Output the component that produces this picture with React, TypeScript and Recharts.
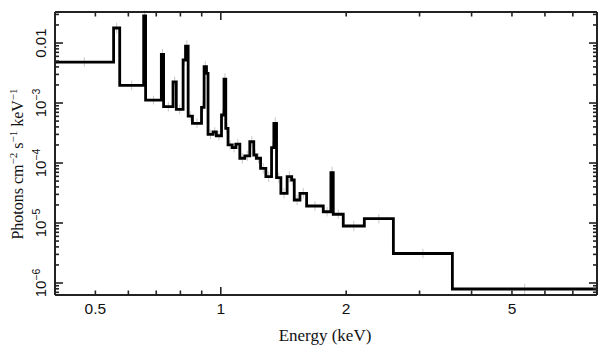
import React from "react";
import { ComposedChart, Line, Scatter, ErrorBar, XAxis, YAxis } from "recharts";

// bin edges (keV) of the folded spectrum, last entry closes the last bin
const binEdges = [
  0.4, 0.553, 0.572, 0.653, 0.66, 0.72, 0.729, 0.768, 0.782, 0.812, 0.823, 0.835,
  0.855, 0.899, 0.912, 0.924, 0.932, 0.958, 0.976, 1.004, 1.018, 1.028, 1.041, 1.065,
  1.087, 1.111, 1.142, 1.174, 1.2, 1.218, 1.246, 1.283, 1.324, 1.341, 1.361, 1.394,
  1.443, 1.479, 1.501, 1.549, 1.607, 1.762, 1.838, 1.862, 1.968, 2.211, 2.596, 3.597, 8.0,
];

// photons cm^-2 s^-1 keV^-1 for each bin
const binFlux = [
  4.82e-3, 1.78e-2, 1.97e-3, 2.82e-2, 1.12e-3, 6.48e-3, 8.68e-4, 2.26e-3, 7.85e-4, 5.21e-3,
  8.91e-3, 6.07e-4, 4.59e-4, 8.48e-4, 4.03e-3, 3.13e-3, 3.01e-4, 3.29e-4, 2.85e-4, 6.31e-4,
  2.51e-3, 3.79e-4, 2.0e-4, 1.81e-4, 2.07e-4, 1.2e-4, 1.32e-4, 2.26e-4, 1.36e-4, 1.2e-4,
  8.16e-5, 5.91e-5, 1.8e-4, 4.59e-4, 5.69e-5, 3.13e-5, 5.91e-5, 5.21e-5, 2.42e-5, 3.13e-5,
  1.92e-5, 1.54e-5, 6.89e-5, 1.4e-5, 8.91e-6, 1.18e-5, 3.1e-6, 7.94e-7,
];

// rough fractional errors
const binErr = [
  0.2, 0.22, 0.2, 0.25, 0.18, 0.22, 0.2, 0.22, 0.2, 0.24, 0.25, 0.2, 0.2, 0.22, 0.24, 0.24,
  0.2, 0.2, 0.2, 0.22, 0.25, 0.22, 0.2, 0.2, 0.22, 0.22, 0.22, 0.24, 0.22, 0.22, 0.22, 0.22,
  0.25, 0.26, 0.22, 0.22, 0.24, 0.24, 0.22, 0.22, 0.2, 0.2, 0.26, 0.2, 0.22, 0.2, 0.2, 0.22,
];

const xTicks = [0.5, 0.6, 0.7, 0.8, 0.9, 1, 2, 3, 4, 5, 6, 7];
const xLabels: Record<string, string> = { "0.5": "0.5", "1": "1", "2": "2", "5": "5" };

const yTicks = [
  7e-7, 8e-7, 9e-7,
  1e-6, 2e-6, 3e-6, 4e-6, 5e-6, 6e-6, 7e-6, 8e-6, 9e-6,
  1e-5, 2e-5, 3e-5, 4e-5, 5e-5, 6e-5, 7e-5, 8e-5, 9e-5,
  1e-4, 2e-4, 3e-4, 4e-4, 5e-4, 6e-4, 7e-4, 8e-4, 9e-4,
  1e-3, 2e-3, 3e-3, 4e-3, 5e-3, 6e-3, 7e-3, 8e-3, 9e-3,
  1e-2, 2e-2, 3e-2,
];

const X_DOMAIN = [0.4, 8];
const Y_DOMAIN = [6.31e-7, 0.0329];

const stepData = binEdges.map((e, i) => ({ e, f: binFlux[Math.min(i, binFlux.length - 1)] }));
const errData = binFlux.map((f, i) => {
  const r = binErr[i];
  return {
    e: Math.sqrt(binEdges[i] * binEdges[i + 1]),
    f,
    err: [f - f / (1 + r), f * r],
  };
});

const AX = "#222";
const isDecade = (v: number) => Math.abs(Math.log10(v) - Math.round(Math.log10(v))) < 1e-6;

const BottomTick = (props: any) => {
  const { x, y, payload } = props;
  const v = payload.value;
  const len = isDecade(v) ? 8 : 4.5;
  const lab = xLabels[String(v)];
  return (
    <g>
      <line x1={x} x2={x} y1={y} y2={y - len} stroke={AX} strokeWidth={1.6} />
      {lab && (
        <text x={x} y={y + 18.5} textAnchor="middle" fontFamily="Liberation Sans" fontSize={15.5} fill="#111">
          {lab}
        </text>
      )}
    </g>
  );
};

const TopTick = (props: any) => {
  const { x, y, payload } = props;
  const len = isDecade(payload.value) ? 8 : 4.5;
  return <line x1={x} x2={x} y1={y} y2={y + len} stroke={AX} strokeWidth={1.6} />;
};

const LeftTick = (props: any) => {
  const { x, y, payload } = props;
  const v = payload.value;
  const dec = isDecade(v);
  const len = dec ? 8 : 4;
  const p = Math.round(Math.log10(v));
  return (
    <g>
      <line x1={x} x2={x + len} y1={y} y2={y} stroke={AX} strokeWidth={1.6} />
      {dec && (
        <text
          x={46}
          y={y}
          transform={`rotate(-90 46 ${y})`}
          textAnchor="middle"
          fontFamily="Liberation Sans"
          fontSize={15}
          fill="#111"
        >
          {p === -2 ? "0.01" : (
            <>
              10<tspan dy={-6} fontSize={10.5}>{"\u2212" + String(-p)}</tspan>
            </>
          )}
        </text>
      )}
    </g>
  );
};

const RightTick = (props: any) => {
  const { x, y, payload } = props;
  const len = isDecade(payload.value) ? 8 : 4;
  return <line x1={x} x2={x - len} y1={y} y2={y} stroke={AX} strokeWidth={1.6} />;
};

export default function App() {
  return (
    <div style={{ position: "absolute", left: 0, top: 0, width: 609, height: 357, background: "#fff" }}>
      <ComposedChart width={609} height={357} data={stepData} margin={{ top: 11, right: 11, bottom: 0, left: 0 }}>
        <XAxis
          dataKey="e"
          type="number"
          scale="log"
          domain={X_DOMAIN}
          allowDataOverflow
          ticks={xTicks}
          interval={0}
          tick={<BottomTick />}
          tickSize={0}
          tickMargin={0}
          height={62}
          axisLine={{ stroke: AX, strokeWidth: 2 }}
        />
        <XAxis
          xAxisId="top"
          orientation="top"
          dataKey="e"
          type="number"
          scale="log"
          domain={X_DOMAIN}
          allowDataOverflow
          ticks={xTicks}
          interval={0}
          tick={<TopTick />}
          tickSize={0}
          tickMargin={0}
          height={1}
          axisLine={{ stroke: AX, strokeWidth: 2 }}
        />
        <YAxis
          type="number"
          scale="log"
          domain={Y_DOMAIN}
          allowDataOverflow
          ticks={yTicks}
          interval={0}
          tick={<LeftTick />}
          tickSize={0}
          tickMargin={0}
          width={55}
          axisLine={{ stroke: AX, strokeWidth: 2 }}
        />
        <YAxis
          yAxisId="right"
          orientation="right"
          type="number"
          scale="log"
          domain={Y_DOMAIN}
          allowDataOverflow
          ticks={yTicks}
          interval={0}
          tick={<RightTick />}
          tickSize={0}
          tickMargin={0}
          width={1}
          axisLine={{ stroke: AX, strokeWidth: 2 }}
        />
        <Scatter data={errData} dataKey="f" shape={() => <g />} isAnimationActive={false}>
          <ErrorBar dataKey="err" direction="y" width={0} stroke="#c8c8c8" strokeWidth={1} />
        </Scatter>
        <Line
          dataKey="f"
          type="stepAfter"
          stroke="#000"
          strokeWidth={2.8}
          dot={false}
          activeDot={false}
          isAnimationActive={false}
        />
        {/* invisible series so the top and right frame axes get drawn */}
        <Line
          xAxisId="top"
          yAxisId="right"
          dataKey="f"
          stroke="none"
          dot={false}
          activeDot={false}
          legendType="none"
          isAnimationActive={false}
        />
      </ComposedChart>
      <svg width={609} height={357} style={{ position: "absolute", left: 0, top: 0, pointerEvents: "none" }}>
        <text x={325} y={341} textAnchor="middle" fontFamily="Liberation Serif" fontSize={17} fill="#111">
          Energy (keV)
        </text>
        <text
          x={23}
          y={164}
          transform="rotate(-90 23 164)"
          textAnchor="middle"
          fontFamily="Liberation Serif"
          fontSize={16}
          fill="#111"
        >
          Photons cm<tspan dy={-6} fontSize={11}>{"\u22122"}</tspan>
          <tspan dy={6}> s</tspan>
          <tspan dy={-6} fontSize={11}>{"\u22121"}</tspan>
          <tspan dy={6}> keV</tspan>
          <tspan dy={-6} fontSize={11}>{"\u22121"}</tspan>
        </text>
      </svg>
    </div>
  );
}
